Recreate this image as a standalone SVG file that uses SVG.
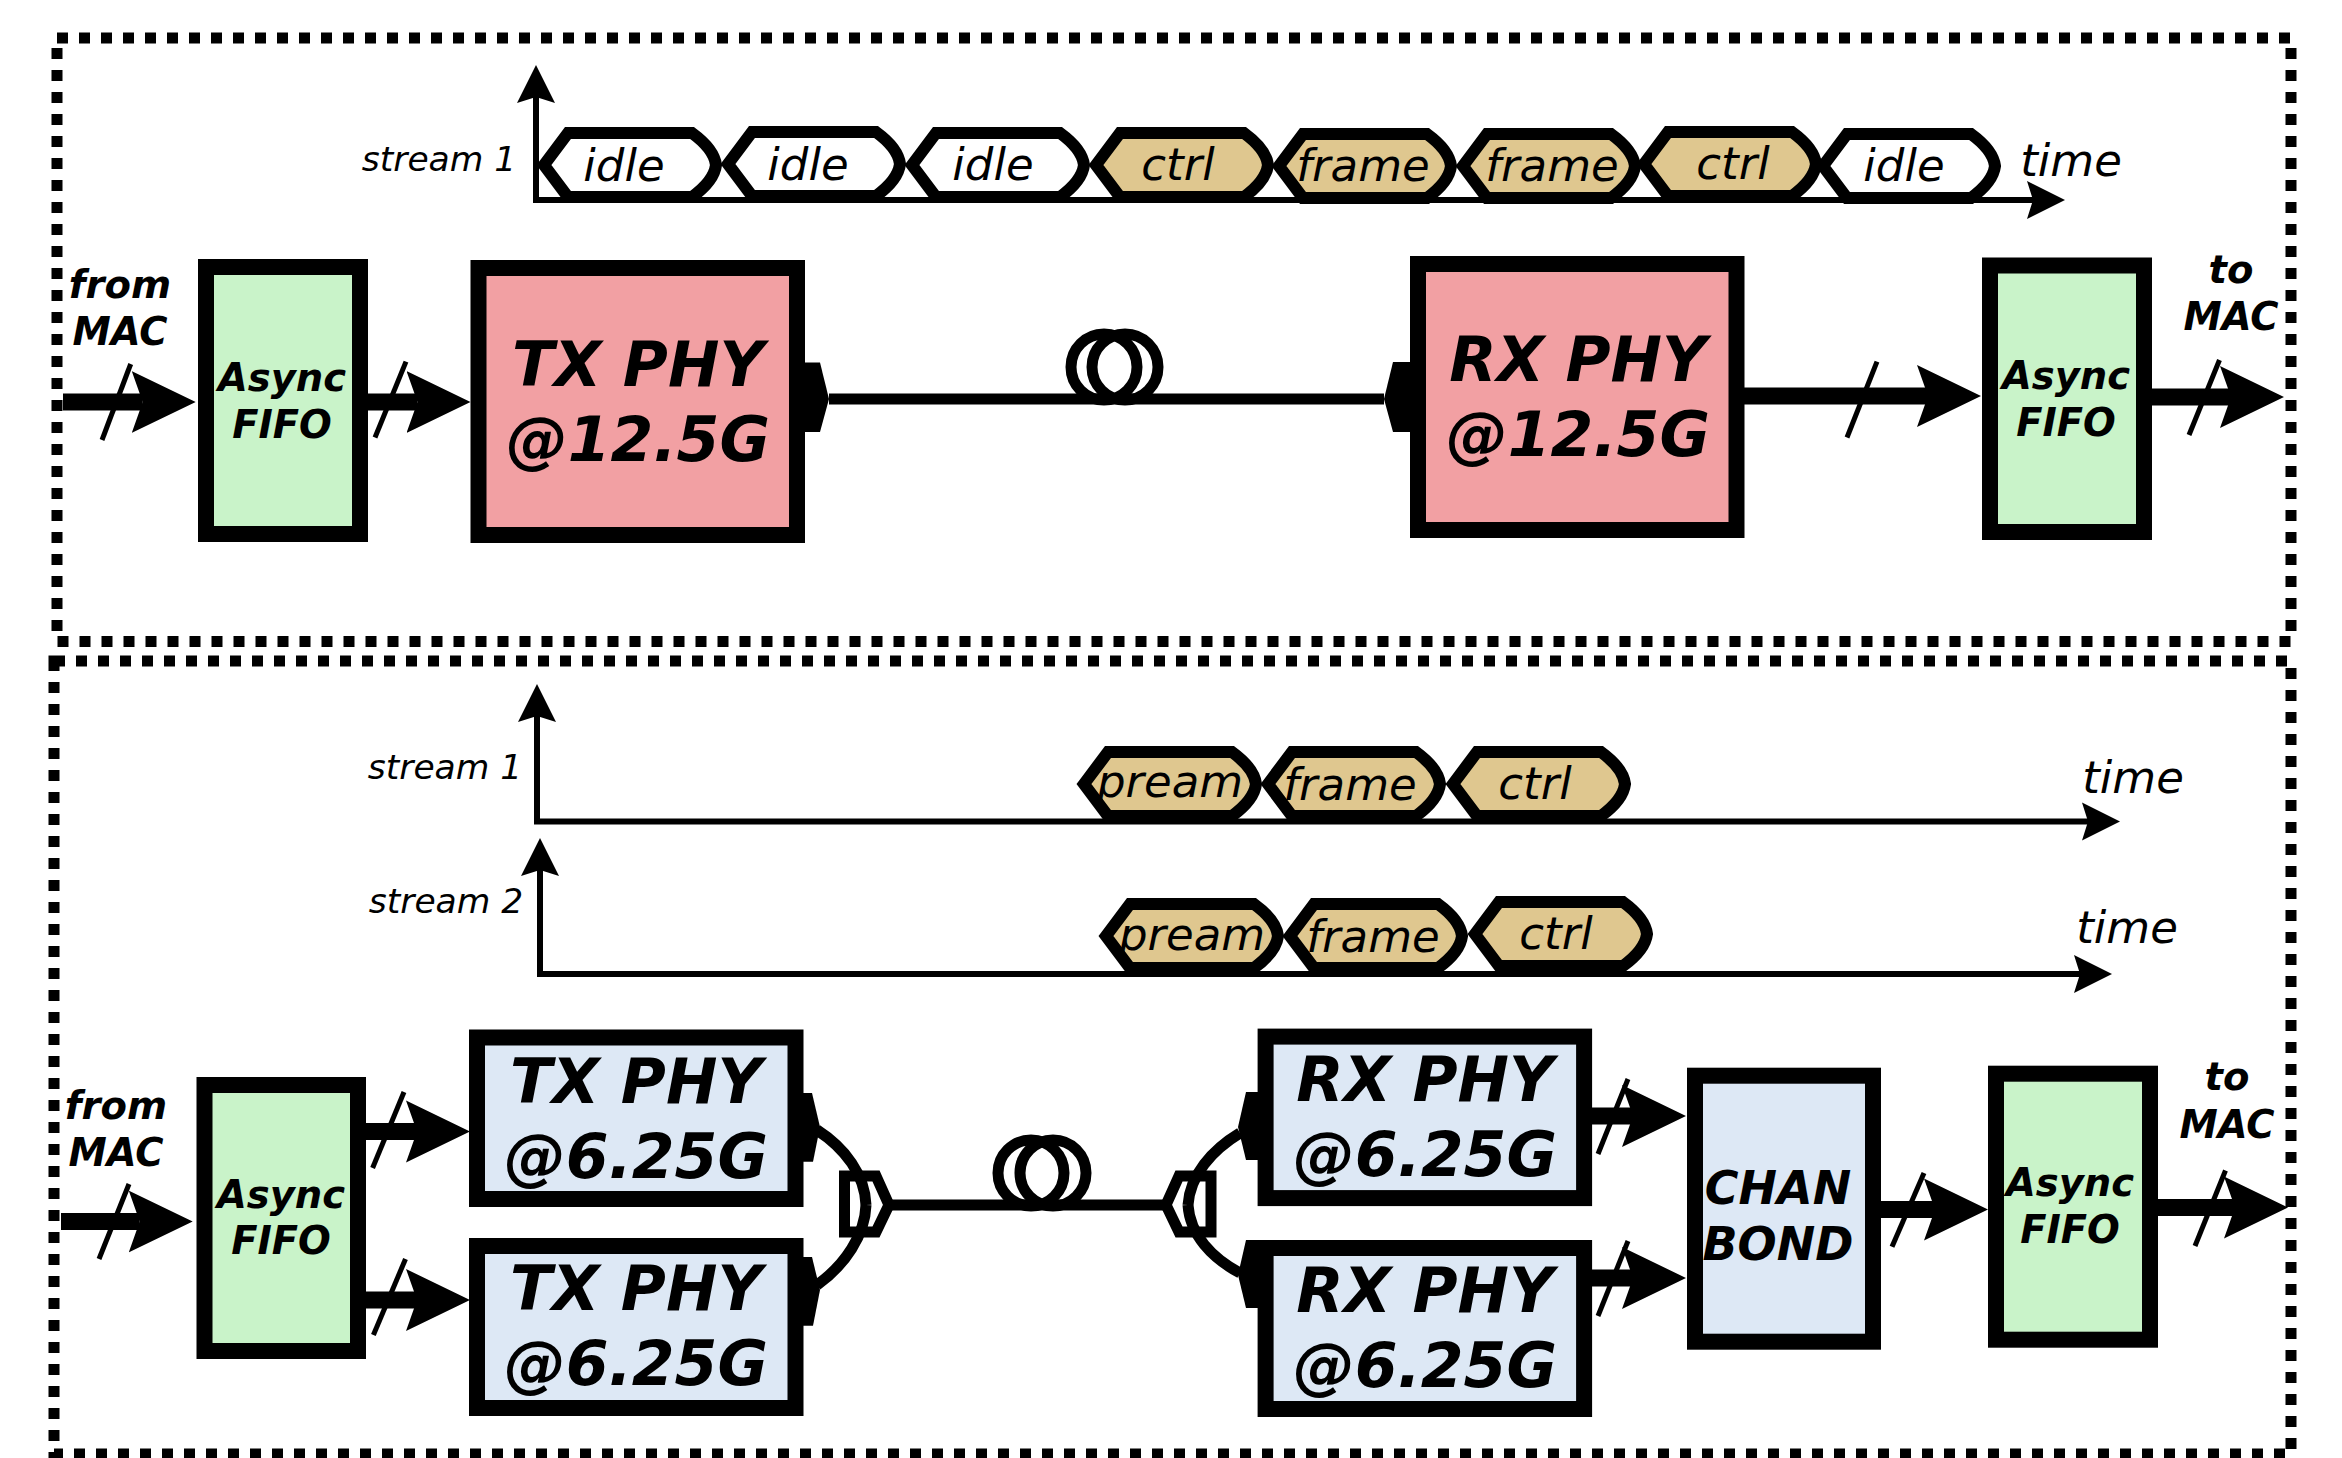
<svg xmlns="http://www.w3.org/2000/svg" width="2342" height="1458" viewBox="0 0 2342 1458">
<style>
text{font-family:"DejaVu Sans","Liberation Sans",sans-serif;font-style:italic;fill:#000;text-anchor:middle}
.lbl{font-size:38.500px;font-weight:bold}
.fifo{font-size:38.500px;font-weight:bold}
.phy{font-size:61.500px;font-weight:bold}
.chan{font-size:46px;font-weight:bold}
.seg{font-size:45px}
.time{font-size:45px}
.st{font-size:34.500px}
.box{stroke:#000;stroke-width:16;stroke-linejoin:miter}
.green{fill:#c9f3c9}
.pink{fill:#f2a0a3}
.blue{fill:#dde8f5}
.frameline{fill:none;stroke:#000;stroke-width:11;stroke-dasharray:11 11}
.hex{stroke:#000;stroke-width:12;stroke-linejoin:miter}
.tan{fill:#dfc78f}
.idle{fill:#fff}
.heavy{fill:none;stroke:#000;stroke-width:17;marker-end:url(#hh)}
.thin{fill:none;stroke:#000;stroke-width:6;marker-end:url(#th)}
.slash{fill:none;stroke:#000;stroke-width:5}
.wire{fill:none;stroke:#000;stroke-width:11}
.port{fill:#000}
</style>
<defs>
<marker id="hh" markerUnits="userSpaceOnUse" markerWidth="66" markerHeight="64" refX="11" refY="32" orient="auto"><polygon points="0,1 64,32 0,63 11,32" fill="#000"/></marker>
<marker id="th" markerUnits="userSpaceOnUse" markerWidth="40" markerHeight="40" refX="6" refY="20" orient="auto"><polygon points="0,1 38,20 0,39 6,20" fill="#000"/></marker>
<path id="hexshape" d="M-2,32L22,0H146Q168,16 170,32Q168,48 146,64H22Z"/>
</defs>
<rect width="2342" height="1458" fill="#fff"/>
<g id="panels">
<rect id="panel-top" class="frameline" x="57" y="38" width="2234" height="603.5"/>
<rect id="panel-bottom" class="frameline" x="54" y="661" width="2237" height="793"/>
</g>
<g id="connectors">
<path class="thin" d="M536 203V97"/>
<path class="thin" d="M533 200H2033"/>
<path class="thin" d="M537 824V716"/>
<path class="thin" d="M534 821.500H2088"/>
<path class="thin" d="M540 977V870"/>
<path class="thin" d="M537 974H2080"/>
<path class="heavy" d="M63 402H142.700"/>
<path class="slash" d="M130.700 364L102 440"/>
<path class="heavy" d="M368 402H417.500"/>
<path class="slash" d="M406 361.600L375 437.500"/>
<path class="heavy" d="M1744 396H1928"/>
<path class="slash" d="M1877 361.600L1847 437.500"/>
<path class="heavy" d="M2152 397H2231"/>
<path class="slash" d="M2219.500 360L2189 435"/>
<path class="wire" d="M829 399H1384"/>
<circle class="wire" cx="1104" cy="367" r="33"/>
<circle class="wire" cx="1125" cy="367" r="33"/>
<path class="heavy" d="M61 1221.500H139.700"/>
<path class="slash" d="M129 1184L99 1259"/>
<path class="heavy" d="M366 1131.500H417"/>
<path class="slash" d="M404 1092L372.600 1168"/>
<path class="heavy" d="M366 1300H417"/>
<path class="slash" d="M405.500 1259L373.400 1335"/>
<path class="wire" d="M817 1130C845 1148 865 1175 866 1205"/>
<path class="wire" d="M817 1285C845 1265 865 1235 866 1205"/>
<polygon class="wire" points="844.500,1176 876,1176 889,1205 876,1232 844.500,1232"/>
<path class="wire" d="M889 1205H1166"/>
<circle class="wire" cx="1031" cy="1173" r="33"/>
<circle class="wire" cx="1053" cy="1173" r="33"/>
<polygon class="wire" points="1211,1176 1179,1176 1166,1205 1179,1232 1211,1232"/>
<path class="wire" d="M1240 1133C1212 1150 1190 1175 1188 1205"/>
<path class="wire" d="M1240 1273C1212 1258 1190 1235 1188 1205"/>
<path class="heavy" d="M1592 1116H1633"/>
<path class="slash" d="M1628 1079L1598 1154"/>
<path class="heavy" d="M1592 1278H1633"/>
<path class="slash" d="M1628 1241L1598 1316"/>
<path class="heavy" d="M1881 1209.500H1935"/>
<path class="slash" d="M1924 1173L1892 1246.700"/>
<path class="heavy" d="M2158 1207.500H2235"/>
<path class="slash" d="M2225.500 1170.500L2195 1246"/>
</g>
<g id="labels-top">
<text class="st" x="439" y="171">stream 1</text>
<text class="time" x="2071" y="176">time</text>
<text class="lbl" x="120" y="298">from</text>
<text class="lbl" x="120" y="345">MAC</text>
<text class="lbl" x="2231" y="283">to</text>
<text class="lbl" x="2231" y="330">MAC</text>
</g>
<g id="seg-idle-1"><use href="#hexshape" class="hex idle" transform="translate(546,133)"/><text class="seg" x="624" y="181">idle</text></g>
<g id="seg-idle-2"><use href="#hexshape" class="hex idle" transform="translate(730,132)"/><text class="seg" x="808" y="180">idle</text></g>
<g id="seg-idle-3"><use href="#hexshape" class="hex idle" transform="translate(914,133)"/><text class="seg" x="993" y="180">idle</text></g>
<g id="seg-ctrl-1"><use href="#hexshape" class="hex tan" transform="translate(1098,133)"/><text class="seg" x="1178" y="180">ctrl</text></g>
<g id="seg-frame-1"><use href="#hexshape" class="hex tan" transform="translate(1281,134)"/><text class="seg" x="1363" y="181">frame</text></g>
<g id="seg-frame-2"><use href="#hexshape" class="hex tan" transform="translate(1465,134)"/><text class="seg" x="1552" y="181">frame</text></g>
<g id="seg-ctrl-2"><use href="#hexshape" class="hex tan" transform="translate(1646,132)"/><text class="seg" x="1733" y="179">ctrl</text></g>
<g id="seg-idle-4"><use href="#hexshape" class="hex idle" transform="translate(1825,134)"/><text class="seg" x="1904" y="181">idle</text></g>
<g id="fifo-tx-top"><rect class="box green" x="206" y="267" width="154" height="267"/><text class="fifo" x="282" y="391">Async</text><text class="fifo" x="282" y="438">FIFO</text></g>
<g id="tx-phy-top"><rect class="box pink" x="478.500" y="268" width="318.500" height="267"/><polygon class="port" points="800,362.500 820,362.500 829,399 820,432 800,432"/><text class="phy" x="638" y="386">TX PHY</text><text class="phy" x="638" y="461">@12.5G</text></g>
<g id="rx-phy-top"><rect class="box pink" x="1418" y="264" width="318.500" height="266"/><polygon class="port" points="1415,362 1393,362 1384,399 1393,432 1415,432"/><text class="phy" x="1578" y="381">RX PHY</text><text class="phy" x="1578" y="456">@12.5G</text></g>
<g id="fifo-rx-top"><rect class="box green" x="1990" y="265.500" width="154" height="266.500"/><text class="fifo" x="2066" y="389">Async</text><text class="fifo" x="2066" y="436">FIFO</text></g>
<g id="labels-bottom">
<text class="st" x="445" y="779">stream 1</text>
<text class="st" x="446" y="913">stream 2</text>
<text class="time" x="2133" y="793">time</text>
<text class="time" x="2127" y="943">time</text>
<text class="lbl" x="116" y="1119">from</text>
<text class="lbl" x="116" y="1166">MAC</text>
<text class="lbl" x="2227" y="1090">to</text>
<text class="lbl" x="2227" y="1138">MAC</text>
</g>
<g id="seg-s1-pream"><use href="#hexshape" class="hex tan" transform="translate(1086,752)"/><text class="seg" x="1170" y="797">pream</text></g>
<g id="seg-s1-frame"><use href="#hexshape" class="hex tan" transform="translate(1270,752)"/><text class="seg" x="1350" y="800">frame</text></g>
<g id="seg-s1-ctrl"><use href="#hexshape" class="hex tan" transform="translate(1455,752)"/><text class="seg" x="1535" y="799">ctrl</text></g>
<g id="seg-s2-pream"><use href="#hexshape" class="hex tan" transform="translate(1108,904)"/><text class="seg" x="1192" y="950">pream</text></g>
<g id="seg-s2-frame"><use href="#hexshape" class="hex tan" transform="translate(1292,904)"/><text class="seg" x="1373" y="952">frame</text></g>
<g id="seg-s2-ctrl"><use href="#hexshape" class="hex tan" transform="translate(1477,902)"/><text class="seg" x="1556" y="949">ctrl</text></g>
<g id="fifo-tx-bottom"><rect class="box green" x="204.500" y="1085" width="153.500" height="266"/><text class="fifo" x="281" y="1208">Async</text><text class="fifo" x="281" y="1254">FIFO</text></g>
<g id="tx-phy-1"><rect class="box blue" x="477" y="1037.500" width="318.500" height="161.500"/><polygon class="port" points="798,1093 812,1093 820,1127 813,1161.700 798,1161.700"/><text class="phy" x="636" y="1103">TX PHY</text><text class="phy" x="636" y="1178">@6.25G</text></g>
<g id="tx-phy-2"><rect class="box blue" x="477" y="1246" width="318.500" height="162"/><polygon class="port" points="798,1257 812,1257 820,1290 813,1325.700 798,1325.700"/><text class="phy" x="636" y="1310">TX PHY</text><text class="phy" x="636" y="1385">@6.25G</text></g>
<g id="rx-phy-1"><rect class="box blue" x="1265.600" y="1036.600" width="318.500" height="161.500"/><polygon class="port" points="1262,1092 1246,1092 1238,1127 1246,1160 1262,1160"/><text class="phy" x="1425" y="1101">RX PHY</text><text class="phy" x="1425" y="1176">@6.25G</text></g>
<g id="rx-phy-2"><rect class="box blue" x="1265.600" y="1248" width="318.500" height="161"/><polygon class="port" points="1262,1240 1246,1240 1238,1275 1246,1308 1262,1308"/><text class="phy" x="1425" y="1312">RX PHY</text><text class="phy" x="1425" y="1387">@6.25G</text></g>
<g id="chan-bond"><rect class="box blue" x="1695" y="1075.700" width="178" height="266"/><text class="chan" x="1778" y="1204">CHAN</text><text class="chan" x="1778" y="1260">BOND</text></g>
<g id="fifo-rx-bottom"><rect class="box green" x="1996" y="1073.700" width="154" height="266"/><text class="fifo" x="2070" y="1196">Async</text><text class="fifo" x="2070" y="1243">FIFO</text></g>
</svg>
